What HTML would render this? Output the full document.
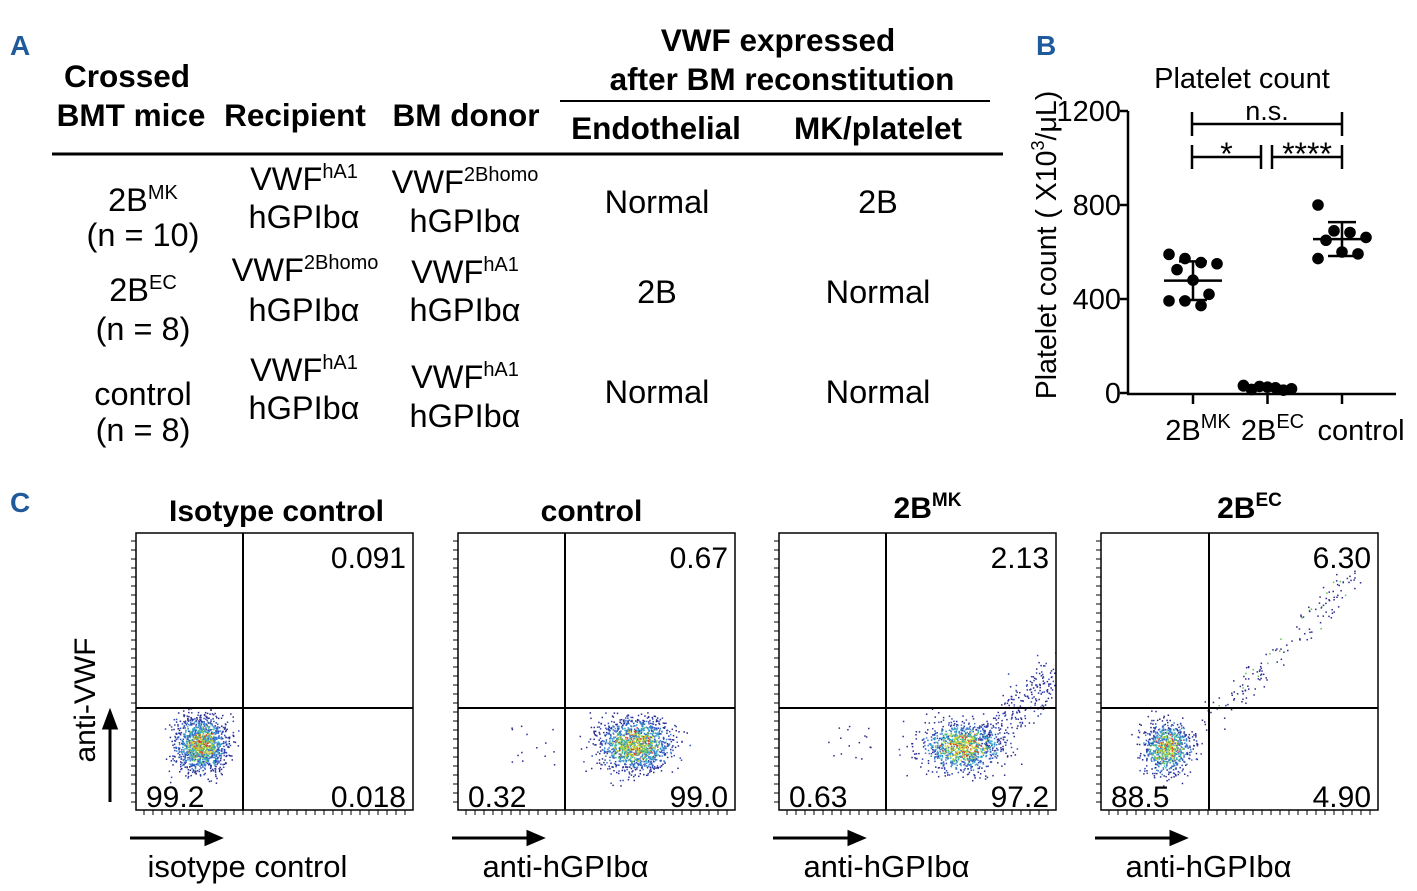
<!DOCTYPE html>
<html><head><meta charset="utf-8">
<style>
html,body{margin:0;padding:0;background:#fff;}
svg{display:block;font-family:"Liberation Sans",Arial,sans-serif;}
.h{font-weight:bold;font-size:31.5px;}
.t{font-size:32.5px;}
.s{font-size:20px;}
.L{font-weight:bold;font-size:28px;fill:#1f5a9c;}
</style></head>
<body>
<svg id="fig" width="1417" height="891" viewBox="0 0 1417 891">
<defs>
<clipPath id="c0"><rect x="136" y="533" width="277" height="277"/></clipPath>
<clipPath id="c1"><rect x="458" y="533" width="277" height="277"/></clipPath>
<clipPath id="c2"><rect x="779" y="533" width="277" height="277"/></clipPath>
<clipPath id="c3"><rect x="1101" y="533" width="277" height="277"/></clipPath>
</defs>
<text class="L" x="10" y="55">A</text>
<text class="L" x="1036" y="55">B</text>
<text class="L" x="10" y="512">C</text>

<g text-anchor="middle">
<text class="h" x="127" y="87">Crossed</text>
<text class="h" x="131" y="126">BMT mice</text>
<text class="h" x="295" y="126">Recipient</text>
<text class="h" x="466" y="126">BM donor</text>
<text class="h" x="778" y="51">VWF expressed</text>
<text class="h" x="782" y="90">after BM reconstitution</text>
<line x1="560" y1="101" x2="990" y2="101" stroke="#000" stroke-width="2"/>
<text class="h" x="656" y="139">Endothelial</text>
<text class="h" x="878" y="139">MK/platelet</text>
<line x1="52" y1="154" x2="1003" y2="154" stroke="#000" stroke-width="3"/>

<text class="t" x="143" y="211">2B<tspan class="s" dy="-12">MK</tspan></text>
<text class="t" x="143" y="246">(n = 10)</text>
<text class="t" x="143" y="301">2B<tspan class="s" dy="-12">EC</tspan></text>
<text class="t" x="143" y="340">(n = 8)</text>
<text class="t" x="143" y="405">control</text>
<text class="t" x="143" y="441">(n = 8)</text>

<text class="t" x="304" y="190">VWF<tspan class="s" dy="-12">hA1</tspan></text>
<text class="t" x="304" y="228">hGPIbα</text>
<text class="t" x="465" y="193">VWF<tspan class="s" dy="-12">2Bhomo</tspan></text>
<text class="t" x="465" y="232">hGPIbα</text>
<text class="t" x="305" y="281">VWF<tspan class="s" dy="-12">2Bhomo</tspan></text>
<text class="t" x="304" y="321">hGPIbα</text>
<text class="t" x="465" y="283">VWF<tspan class="s" dy="-12">hA1</tspan></text>
<text class="t" x="465" y="321">hGPIbα</text>
<text class="t" x="304" y="381">VWF<tspan class="s" dy="-12">hA1</tspan></text>
<text class="t" x="304" y="419">hGPIbα</text>
<text class="t" x="465" y="388">VWF<tspan class="s" dy="-12">hA1</tspan></text>
<text class="t" x="465" y="427">hGPIbα</text>

<text class="t" x="657" y="213">Normal</text>
<text class="t" x="878" y="213">2B</text>
<text class="t" x="657" y="303">2B</text>
<text class="t" x="878" y="303">Normal</text>
<text class="t" x="657" y="403">Normal</text>
<text class="t" x="878" y="403">Normal</text>
</g>

<g id="panelB"></g>
<g id="panelC"></g>
</svg>
<script>
// ===== Panel B data =====
const groups = ["2B", "2B", "control"];
const groupSup = ["MK", "EC", ""];
const mkValues = [590, 572, 555, 550, 525, 480, 420, 392, 392, 372];
const ecValues = [32, 28, 22, 18, 15, 25, 12, 30];
const ctrlValues = [800, 690, 683, 662, 650, 600, 592, 572];
const groupMeans = [478, 22, 655];
const groupSD = [82, 8, 72];
const yTicks = [0, 400, 800, 1200];

const NS = "http://www.w3.org/2000/svg";
function mk(tag, attrs, parent){const e=document.createElementNS(NS,tag);for(const k in attrs)e.setAttribute(k,attrs[k]);parent.appendChild(e);return e;}

const B = document.getElementById('panelB');
const yScale = v => 393 - v/1200*282;
const xScale = i => 1193 + i*74.5;

let tt = mk('text',{x:1242,y:88,'font-size':29,'text-anchor':'middle'},B);
tt.textContent='Platelet count';


let yt = mk('text',{x:0,y:0,'font-size':28.5,'text-anchor':'middle',transform:'translate(1056,245) rotate(-90)'},B);
yt.innerHTML='Platelet count ( X10<tspan font-size="18" dy="-12">3</tspan><tspan dy="12">/μL)</tspan>';


let ya = mk('line',{x1:1128,y1:yScale(1200),x2:1128,y2:394,stroke:'#000','stroke-width':2.5},B);


let xa = mk('line',{x1:1127,y1:394,x2:1396,y2:394,stroke:'#000','stroke-width':2.5},B);


yTicks.forEach(v=>{
  let l=mk('line',{x1:1120,y1:yScale(v),x2:1128,y2:yScale(v),stroke:'#000','stroke-width':2.5},B);
  
  
  let t=mk('text',{x:1121,y:yScale(v)+10,'font-size':29,'text-anchor':'end'},B);
  t.textContent=v;
  
  
});
groups.forEach((g,i)=>{
  let l=mk('line',{x1:xScale(i),y1:394,x2:xScale(i),y2:404,stroke:'#000','stroke-width':2.5},B);
  
  
  let t=mk('text',{x:xScale(i)+(i==2?19:5),y:440,'font-size':29,'text-anchor':'middle'},B);
  t.innerHTML=g+(groupSup[i]?'<tspan font-size="20" dy="-12">'+groupSup[i]+'</tspan>':'');
  
  
});
const allVals=[mkValues,ecValues,ctrlValues];
const jit=[-24,-8,8,24,-16,0,16,-24,-8,8,24,-16];
allVals.forEach((arr,gi)=>{
  arr.forEach((v,j)=>{
    let c=mk('circle',{cx:xScale(gi)+jit[j%jit.length],cy:yScale(v),r:5.8,fill:'#000'},B);
    
    
  });
  const m=groupMeans[gi], s=groupSD[gi], x=xScale(gi);
  let ml=mk('line',{x1:x-29,y1:yScale(m),x2:x+29,y2:yScale(m),stroke:'#000','stroke-width':2.5},B);
  
  
  let el=mk('path',{d:`M${x},${yScale(m+s)}V${yScale(m-s)}M${x-14},${yScale(m+s)}H${x+14}M${x-14},${yScale(m-s)}H${x+14}`,stroke:'#000','stroke-width':2.5,fill:'none'},B);
  
  
});
function bracket(x1,x2,y,label,name,fs,dy){
  let p=mk('path',{d:`M${x1},${y-12}V${y+12}M${x1},${y}H${x2}M${x2},${y-12}V${y+12}`,stroke:'#000','stroke-width':2.5,fill:'none'},B);
  
  
  let t=mk('text',{x:(x1+x2)/2,y:y+dy,'font-size':fs,'text-anchor':'middle'},B);
  t.textContent=label;
  
  
}
bracket(1192,1342,124,'n.s.','bracket-ns',27,-4);
bracket(1192,1261,157,'*','bracket-star',32,8);
bracket(1272,1342,157,'****','bracket-4star',32,8);

// ===== Panel C flow plots =====
const plotTitles = ["Isotype control","control","2B","2B"];
const plotSups = ["","","MK","EC"];
const quadUR = ["0.091","0.67","2.13","6.30"];
const quadLL = ["99.2","0.32","0.63","88.5"];
const quadLR = ["0.018","99.0","97.2","4.90"];
const xLabels = ["isotype control","anti-hGPIbα","anti-hGPIbα","anti-hGPIbα"];
const C = document.getElementById('panelC');
const plotLeft=[136,458,779,1101], PW=277, PT=533, PH=277;
const vline=[243,565,886,1209], hline=708;
const cx=[201,635,962,1167], cy=[744,744,746,748], rx=[34,48,52,32], ry=[35,34,32,34];
let seed=7;function rnd(){seed=(seed*16807)%2147483647;return (seed-1)/2147483646;}
function gauss(){return (rnd()+rnd()+rnd()+rnd()-2)/0.577;}
const cols=['#2a2a8f','#2f47b8','#3a7fd0','#34b3c8','#5fc25a','#d6d634','#e03a2a'];
function colFor(r2){
  const v=r2+(rnd()-0.5)*0.3;
  if(v>0.4) return cols[rnd()<0.7?0:1];
  if(v>0.22) return cols[rnd()<0.5?1:2];
  if(v>0.1) return cols[rnd()<0.5?3:2];
  if(v>0.04) return cols[4];
  return cols[rnd()<0.7?5:6];
}
for(let p=0;p<4;p++){
  const g=mk('g',{},C);
  
  
  const x0=plotLeft[p];
  let title=mk('text',{x:x0+PW/2+(p==1?-5:(p==0?2:10)),y:p<2?521:518,'font-size':30,'font-weight':'bold','text-anchor':'middle'},g);
  title.innerHTML=plotTitles[p]+(plotSups[p]?'<tspan font-size="19" dy="-12">'+plotSups[p]+'</tspan>':'');
  
  
  const dots=mk('g',{'clip-path':'url(#c'+p+')'},g);
  
  
  const n=p==3?800:1300;
  for(let i=0;i<n;i++){
    let gx=gauss(), gy=gauss();
    let dx=gx*rx[p]/2.6, dy=gy*ry[p]/2.6;
    let r2=(gx*gx+gy*gy)/9;
    if(p==2 && rnd()<0.2){const t=rnd();dx=20+t*75+gauss()*9;dy=-t*75+gauss()*10;r2=1;}
    mk('rect',{x:cx[p]+dx,y:cy[p]+dy,width:1.5,height:1.5,fill:colFor(r2)},dots);
  }
  if(p==3){ for(let i=0;i<150;i++){const t=rnd();mk('rect',{x:1205+t*150+gauss()*7,y:725-t*150+gauss()*7,width:1.5,height:1.5,fill:rnd()<0.85?'#2a2a8f':'#5fc25a'},dots);} }
  if(p==1){ for(let i=0;i<14;i++){mk('rect',{x:505+rnd()*50,y:725+rnd()*40,width:1.5,height:1.5,fill:'#2a2a8f'},dots);} }
  if(p==2){ for(let i=0;i<16;i++){mk('rect',{x:825+rnd()*50,y:720+rnd()*40,width:1.5,height:1.5,fill:'#2a2a8f'},dots);} }
  let fr=mk('rect',{x:x0,y:PT,width:PW,height:PH,fill:'none',stroke:'#000','stroke-width':1.5},g);
  
  
  let vl=mk('line',{x1:vline[p],y1:PT,x2:vline[p],y2:PT+PH,stroke:'#000','stroke-width':2},g);
  
  
  let hl=mk('line',{x1:x0,y1:hline,x2:x0+PW,y2:hline,stroke:'#000','stroke-width':2},g);
  
  
  for(let k=0;k<30;k++){const ty=PT+8+k*9;mk('line',{x1:x0-5,y1:ty,x2:x0,y2:ty,stroke:'#000','stroke-width':1},g);}
  for(let k=0;k<30;k++){const tx=x0+8+k*9;mk('line',{x1:tx,y1:PT+PH,x2:tx,y2:PT+PH+5,stroke:'#000','stroke-width':1},g);}
  [[quadUR[p],x0+PW-7,PT+35,'end','quad-upper-right'],[quadLL[p],x0+10,PT+PH-3,'start','quad-lower-left'],[quadLR[p],x0+PW-7,PT+PH-3,'end','quad-lower-right']].forEach(a=>{
    let t=mk('text',{x:a[1],y:a[2],'font-size':30,'text-anchor':a[3]},g);
    t.textContent=a[0];
    
    
  });
  let ar=mk('path',{d:`M${x0-6},838H${x0+70}M${x0+70},832L${x0+84},838L${x0+70},844Z`,stroke:'#000','stroke-width':3,fill:'#000'},g);
  
  
  let xl=mk('text',{x:x0+PW/2-(p==0?27:31),y:877,'font-size':31,'text-anchor':'middle'},g);
  xl.textContent=xLabels[p];
  
  
}
let ya2=mk('path',{d:'M110,802V726M104,728L110,712L116,728Z',stroke:'#000','stroke-width':3,fill:'#000'},C);


let yl2=mk('text',{x:0,y:0,'font-size':30,'text-anchor':'middle',transform:'translate(95,700) rotate(-90)'},C);
yl2.textContent='anti-VWF';


</script>
</body></html>
